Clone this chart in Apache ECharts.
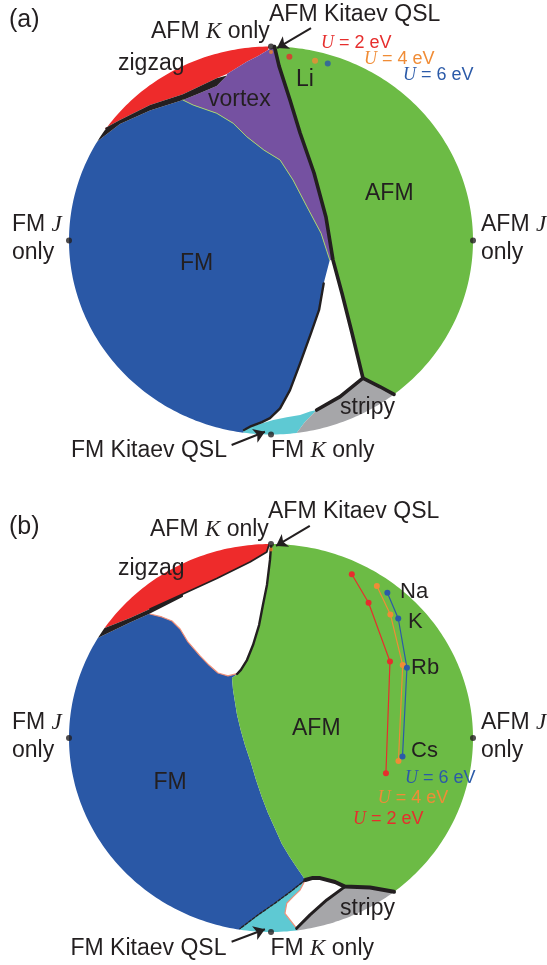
<!DOCTYPE html>
<html>
<head>
<meta charset="utf-8">
<script src="https://cdn.jsdelivr.net/npm/echarts@6/dist/echarts.min.js"></script>
<style>
  html, body { margin: 0; padding: 0; background: #fff; }
  #chart { width: 547px; height: 965px; }
</style>
</head>
<body>
<div id="chart"></div>
<script>
// Phase diagrams on the unit disc: x to the right, y upwards, rim = |r| = 1.
// Rim arcs are given as [fromDeg, toDeg] (counter-clockwise).

// ---------- panel (a) ----------
const aZigzagArc = [90.5, 144.8];
const aZigzagEdge = [[-0.823,0.578],[-0.748,0.621],[-0.599,0.698],[-0.436,0.754],[-0.269,0.836],[-0.218,0.858],[-0.120,0.922],[-0.064,0.951],[-0.015,0.982]];
const aBandArc = [144.8, 149.2];
const aBandLow = [[-0.851,0.518],[-0.748,0.601],[-0.599,0.670],[-0.436,0.724],[-0.351,0.760],[-0.269,0.796],[-0.218,0.851]];
const aVortexEdge = [[-0.436,0.724],[-0.385,0.698],[-0.269,0.656],[-0.187,0.604],[-0.120,0.535],[-0.035,0.466],[0.045,0.415],[0.109,0.312],[0.178,0.174],[0.248,0.037],[0.291,-0.101]];
const aMainLine = [[0.017,1.0],[0.040,0.899],[0.094,0.724],[0.144,0.554],[0.213,0.348],[0.272,0.121],[0.307,-0.101],[0.351,-0.271],[0.401,-0.477],[0.455,-0.709]];
const aRightBranch = [[0.455,-0.709],[0.540,-0.754],[0.609,-0.793]];
const aLowBranch = [[0.455,-0.709],[0.342,-0.805],[0.226,-0.874]];
const aFMRight = [[-0.134,-0.977],[-0.104,-0.960],[-0.045,-0.936],[-0.005,-0.916],[0.045,-0.865],[0.094,-0.771],[0.144,-0.633],[0.198,-0.477],[0.238,-0.358],[0.261,-0.221],[0.291,-0.101]];
const aCyanTop = [[0.226,-0.874],[0.193,-0.882],[0.144,-0.899],[0.078,-0.911],[0.011,-0.925],[-0.071,-0.951],[-0.137,-0.972]];
const aStripyEdge = [[0.127,-0.986],[0.168,-0.936],[0.226,-0.874]];
const aFMArc = [149.2, 262.2];
const aCyanArc = [262.2, 277.3];
const aStripyArc = [277.3, 307.5];
const aAFMArc = [-52.5, 89];
// Li for U = 2, 4, 6 eV
const aLiU2 = [[0.091,0.947]];
const aLiU4 = [[0.218,0.927]];
const aLiU6 = [[0.281,0.913]];

// ---------- panel (b) ----------
const bZigzagArc = [90.5, 145.5];
const bZigzagEdge = [[-0.823,0.567],[-0.698,0.619],[-0.599,0.665],[-0.436,0.742],[-0.269,0.822],[-0.104,0.907],[-0.021,0.959],[-0.012,0.990]];
const bBandArc = [145.5, 149];
const bBandLow = [[-0.858,0.515],[-0.698,0.595],[-0.599,0.642],[-0.436,0.728]];
const bFMTop = [[-0.599,0.639],[-0.540,0.624],[-0.490,0.603],[-0.450,0.562],[-0.411,0.495],[-0.351,0.423],[-0.307,0.376],[-0.262,0.335],[-0.213,0.320],[-0.168,0.332]];
const bTopLine = [[0,0.990],[-0.005,0.918],[-0.020,0.789],[-0.040,0.686],[-0.059,0.582],[-0.089,0.479],[-0.119,0.402],[-0.149,0.351],[-0.168,0.330]];
const bFMAFM = [[-0.168,0.330],[-0.193,0.309],[-0.188,0.247],[-0.168,0.119],[-0.150,0.041],[-0.129,-0.036],[-0.099,-0.129],[-0.074,-0.216],[-0.046,-0.303],[-0.015,-0.387],[0.023,-0.474],[0.054,-0.546],[0.092,-0.612],[0.129,-0.670],[0.170,-0.732]];
const bBottomLine = [[0.170,-0.732],[0.203,-0.722],[0.243,-0.722],[0.317,-0.742],[0.366,-0.766],[0.490,-0.771],[0.609,-0.793]];
const bStripyLine = [[0.366,-0.766],[0.276,-0.835],[0.193,-0.912],[0.127,-0.981]];
const bCyanRight = [[0.170,-0.732],[0.144,-0.784],[0.110,-0.818],[0.078,-0.852],[0.069,-0.904],[0.094,-0.938],[0.127,-0.981]];
const bFMCyan = [[0.170,-0.732],[0.163,-0.742],[0.094,-0.794],[0.020,-0.851],[-0.064,-0.912],[-0.153,-0.982]];
const bFMArc = [149, 261.2];
const bCyanArc = [261.2, 277.4];
const bStripyArc = [277.4, 307.5];
const bAFMArc = [-52.5, 89.5];
// Na, K, Rb, Cs for U = 2, 4, 6 eV
const bCompounds = ['Na', 'K', 'Rb', 'Cs'];
const bU2 = [[0.400,0.844],[0.483,0.697],[0.589,0.394],[0.569,-0.182]];
const bU4 = [[0.524,0.784],[0.591,0.637],[0.652,0.376],[0.631,-0.119]];
const bU6 = [[0.576,0.749],[0.630,0.616],[0.673,0.362],[0.651,-0.096]];

// pure-J / pure-K points on the rim
const limitPoints = [[-1,0],[1,0],[0,1],[0,-1]];

const SANS = '"Liberation Sans", Arial, sans-serif';
const SERIF = '"Liberation Serif", "Times New Roman", serif';
const INK = '#231f20';
const C = {
  zigzag: '#ee2b2b', vortex: '#7551a1', fm: '#2a58a6', afm: '#6cbb45',
  stripy: '#a6a6a9', cyan: '#5ec9d3', u2: '#e62e2d', u4: '#f08c36', u6: '#2b5aa8'
};

function arc(range) {
  const [from, to] = range;
  const n = Math.max(2, Math.ceil(Math.abs(to - from)));
  const pts = [];
  for (let i = 0; i <= n; i++) {
    const t = (from + (to - from) * i / n) * Math.PI / 180;
    pts.push([Math.cos(t), Math.sin(t)]);
  }
  return pts;
}
const rev = a => a.slice().reverse();

function region(name, pts, color, g) {
  return {
    type: 'custom', name, xAxisIndex: g, yAxisIndex: g, silent: true, z: 1, clip: false,
    data: [pts[0]],
    renderItem: (params, api) => ({
      type: 'polygon',
      shape: { points: pts.map(p => api.coord(p)) },
      style: { fill: color }
    })
  };
}
function line(name, pts, color, width, g, z, dash) {
  return {
    type: 'line', name, data: pts, xAxisIndex: g, yAxisIndex: g, showSymbol: false,
    silent: true, clip: false, z: z || 3, animation: false,
    lineStyle: { color, width, type: dash || 'solid', cap: 'round', join: 'round' }
  };
}
function dots(name, pts, color, size, g) {
  return {
    type: 'scatter', name, data: pts, xAxisIndex: g, yAxisIndex: g, silent: true,
    symbol: 'circle', symbolSize: size, itemStyle: { color }, z: 6, clip: false
  };
}
function path(name, pts, color, g) {
  return {
    type: 'line', name, data: pts, xAxisIndex: g, yAxisIndex: g, silent: true, clip: false,
    symbol: 'circle', symbolSize: 6, showSymbol: true, z: 5,
    itemStyle: { color }, lineStyle: { color, width: 1.2 }
  };
}
function arrow(name, from, to, g) {
  return {
    type: 'lines', name, coordinateSystem: 'cartesian2d', xAxisIndex: g, yAxisIndex: g,
    silent: true, clip: false, z: 7,
    symbol: ['none', 'arrow'], symbolSize: 11,
    lineStyle: { color: INK, width: 2, opacity: 1, curveness: 0 },
    data: [{ coords: [from, to] }]
  };
}

const series = [
  // (a)
  region('zigzag a', arc(aZigzagArc).concat(aZigzagEdge), C.zigzag, 0),
  region('vortex a', rev(aZigzagEdge.slice(5)).concat(rev(aBandLow.slice(3)), aVortexEdge, rev(aMainLine.slice(0, 7))), C.vortex, 0),
  region('FM a', arc(aFMArc).concat(aFMRight, rev(aVortexEdge), rev(aBandLow.slice(0, 3))), C.fm, 0),
  region('FM Kitaev a', arc(aCyanArc).concat(aStripyEdge.slice(1), aCyanTop.slice(1)), C.cyan, 0),
  region('stripy a', arc(aStripyArc).concat(rev(aRightBranch), aLowBranch.slice(1), [aStripyEdge[1]]), C.stripy, 0),
  region('AFM a', arc(aAFMArc).concat(aMainLine, aRightBranch.slice(1)), C.afm, 0),
  region('band a', arc(aBandArc).concat(aBandLow, rev(aZigzagEdge.slice(0, 5))), INK, 0),
  line('vortex edge a', aVortexEdge, '#a9d26e', 1, 0, 2),
  line('main a', aMainLine, INK, 3.6, 0),
  line('right branch a', aRightBranch, INK, 3.6, 0),
  line('low branch a', aLowBranch, INK, 3.6, 0),
  line('FM edge a', aFMRight.slice(0, 10), INK, 2.4, 0),
  dots('limits a', limitPoints, INK, 6, 0),
  dots('AFM Kitaev a', [[0, 0.972]], '#f07f2a', 4, 0),
  dots('Li U2', aLiU2, C.u2, 6, 0),
  dots('Li U4', aLiU4, C.u4, 6, 0),
  dots('Li U6', aLiU6, C.u6, 6, 0),
  arrow('arrow AFM QSL a', [0.198, 1.095], [0.030, 0.992], 0),
  arrow('arrow FM QSL a', [-0.195, -1.054], [-0.030, -0.986], 0),

  // (b)
  region('zigzag b', arc(bZigzagArc).concat(bZigzagEdge), C.zigzag, 1),
  region('FM b', arc(bFMArc).concat(rev(bFMCyan), rev(bFMAFM).slice(1), rev(bFMTop), rev(bBandLow.slice(0, 3))), C.fm, 1),
  region('FM Kitaev b', arc(bCyanArc).concat(rev(bCyanRight), bFMCyan.slice(1)), C.cyan, 1),
  region('stripy b', arc(bStripyArc).concat(rev(bBottomLine.slice(4)), bStripyLine.slice(1)), C.stripy, 1),
  region('AFM b', arc(bAFMArc).concat(bTopLine, bFMAFM.slice(1), bBottomLine.slice(1)), C.afm, 1),
  region('band b', arc(bBandArc).concat(bBandLow, rev(bZigzagEdge.slice(0, 4))), INK, 1),
  line('FM top edge b', bFMTop, '#f0907a', 1.2, 1, 2),
  line('cyan edge b', bCyanRight, '#f0907a', 1.2, 1, 2),
  line('zigzag edge b', bZigzagEdge.slice(2), INK, 1.8, 1),
  line('top line b', bTopLine, INK, 2.4, 1),
  line('bottom line b', bBottomLine, INK, 4, 1),
  line('stripy line b', bStripyLine, INK, 3, 1),
  line('FM cyan edge b', bFMCyan, INK, 1.4, 1, 3, [3, 1.5]),
  dots('limits b', limitPoints, INK, 6, 1),
  dots('AFM Kitaev b', [[0, 0.972]], '#f07f2a', 4, 1),
  path('U = 2 eV', bU2, C.u2, 1),
  path('U = 4 eV', bU4, C.u4, 1),
  path('U = 6 eV', bU6, C.u6, 1),
  arrow('arrow AFM QSL b', [0.192, 1.093], [0.025, 0.990], 1),
  arrow('arrow FM QSL b', [-0.195, -1.050], [-0.030, -0.986], 1)
];

// text labels
function label(x, y, text, size, color) {
  return {
    type: 'text', x, y, silent: true, z: 20,
    style: {
      text, fill: color || INK, fontFamily: SANS, fontSize: size,
      align: 'left', verticalAlign: 'middle',
      rich: { i: { fontFamily: SERIF, fontStyle: 'italic', fontSize: size, fill: color || INK } }
    }
  };
}
const B = 23, S = 18, E = 22;
const graphic = [
  label(9, 20, '(a)', 25),
  label(269, 14.5, 'AFM Kitaev QSL', B),
  label(151, 31.5, 'AFM {i|K} only', B),
  label(118, 64, 'zigzag', B),
  label(208, 100, 'vortex', B),
  label(296, 80, 'Li', B),
  label(365, 194, 'AFM', B),
  label(180, 264, 'FM', B),
  label(12, 224.5, 'FM {i|J}', B), label(12, 252.5, 'only', B),
  label(481, 224.5, 'AFM {i|J}', B), label(481, 252.5, 'only', B),
  label(340, 407.5, 'stripy', B),
  label(71, 451, 'FM Kitaev QSL', B),
  label(271, 451, 'FM {i|K} only', B),
  label(321, 43, '{i|U} = 2 eV', S, C.u2),
  label(364, 59.5, '{i|U} = 4 eV', S, C.u4),
  label(403, 75, '{i|U} = 6 eV', S, C.u6),

  label(9, 527, '(b)', 25),
  label(268, 511.7, 'AFM Kitaev QSL', B),
  label(150, 529.5, 'AFM {i|K} only', B),
  label(118, 569, 'zigzag', B),
  label(292, 729, 'AFM', B),
  label(153.5, 783, 'FM', B),
  label(12, 722.5, 'FM {i|J}', B), label(12, 750.5, 'only', B),
  label(481, 722.5, 'AFM {i|J}', B), label(481, 750.5, 'only', B),
  label(340, 909, 'stripy', B),
  label(70.5, 949, 'FM Kitaev QSL', B),
  label(270.5, 949, 'FM {i|K} only', B),
  label(400, 591.7, bCompounds[0], E),
  label(408, 621.7, bCompounds[1], E),
  label(411, 667.7, bCompounds[2], E),
  label(411, 751, bCompounds[3], E),
  label(405, 778, '{i|U} = 6 eV', S, C.u6),
  label(377.7, 798, '{i|U} = 4 eV', S, C.u4),
  label(353, 819, '{i|U} = 2 eV', S, C.u2)
];

const axis = g => ({ type: 'value', gridIndex: g, min: -1, max: 1, show: false });
const chart = echarts.init(document.getElementById('chart'), null, { renderer: 'canvas' });
chart.setOption({
  animation: false,
  backgroundColor: '#ffffff',
  grid: [
    { left: 69, top: 46.5, width: 404, height: 388 },
    { left: 69, top: 544, width: 404, height: 388 }
  ],
  xAxis: [axis(0), axis(1)],
  yAxis: [axis(0), axis(1)],
  series,
  graphic
});
</script>
</body>
</html>
